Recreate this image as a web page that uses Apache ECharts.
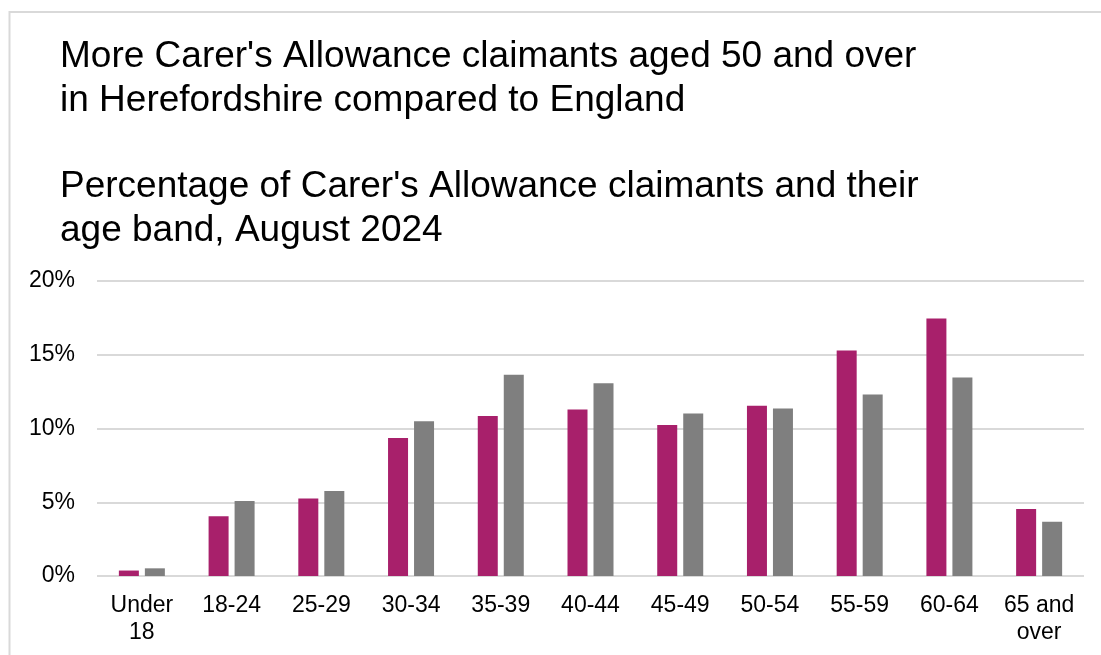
<!DOCTYPE html>
<html>
<head>
<meta charset="utf-8">
<style>
  html, body { margin: 0; padding: 0; background: #fff; }
  #chart { width: 1101px; height: 655px; }
</style>
<script src="https://cdn.jsdelivr.net/npm/echarts@6/dist/echarts.min.js"></script>
</head>
<body>
<div id="chart"></div>
<script>
// age bands on the x axis
const ageBands = ['Under\n18', '18-24', '25-29', '30-34', '35-39', '40-44', '45-49', '50-54', '55-59', '60-64', '65 and\nover']
// % of claimants in each band
const herefordshire = [0.37, 4.05, 5.25, 9.35, 10.84, 11.29, 10.23, 11.55, 15.28, 17.46, 4.54]
const england = [0.52, 5.09, 5.77, 10.5, 13.65, 13.06, 11.02, 11.35, 12.31, 13.45, 3.67]
const yTicks = [0, 5, 10, 15, 20]

const font = 'Liberation Sans, Arial, sans-serif'

const myChart = echarts.init(document.getElementById('chart'))

const option = {
  animation: false,
  backgroundColor: '#fff',
  title: [
    {
      text: "More Carer's Allowance claimants aged 50 and over\nin Herefordshire compared to England",
      left: 55,
      top: 30,
      textStyle: { fontFamily: font, fontSize: 37, fontWeight: 'normal', color: '#000', lineHeight: 44 }
    },
    {
      text: "Percentage of Carer's Allowance claimants and their\nage band, August 2024",
      left: 55,
      top: 160,
      textStyle: { fontFamily: font, fontSize: 37, fontWeight: 'normal', color: '#000', lineHeight: 44 }
    }
  ],
  graphic: [
    {
      type: 'rect',
      shape: { x: 9.5, y: 12, width: 1200, height: 800 },
      style: { fill: 'none', stroke: '#d9d9d9', lineWidth: 2 },
      silent: true
    }
  ],
  grid: { left: 97, right: 17, top: 281, bottom: 79 },
  xAxis: {
    type: 'category',
    data: ageBands,
    axisLine: { show: false },
    axisTick: { show: false },
    axisLabel: {
      interval: 0,
      margin: 16,
      fontFamily: font,
      fontSize: 23,
      lineHeight: 27,
      color: '#000'
    }
  },
  yAxis: {
    type: 'value',
    min: yTicks[0],
    max: yTicks[yTicks.length - 1],
    interval: 5,
    axisLine: { show: false },
    axisTick: { show: false },
    splitLine: { lineStyle: { color: '#d9d9d9', width: 2 } },
    axisLabel: {
      margin: 22,
      fontFamily: font,
      fontSize: 23,
      color: '#000',
      formatter: v => v + '%'
    }
  },
  series: [
    {
      name: 'Herefordshire',
      type: 'bar',
      data: herefordshire,
      barWidth: 20,
      barGap: '30%',
      itemStyle: { color: '#A8206B' }
    },
    {
      name: 'England',
      type: 'bar',
      data: england,
      barWidth: 20,
      itemStyle: { color: '#7F7F7F' }
    }
  ]
}

myChart.setOption(option)
</script>
</body>
</html>
